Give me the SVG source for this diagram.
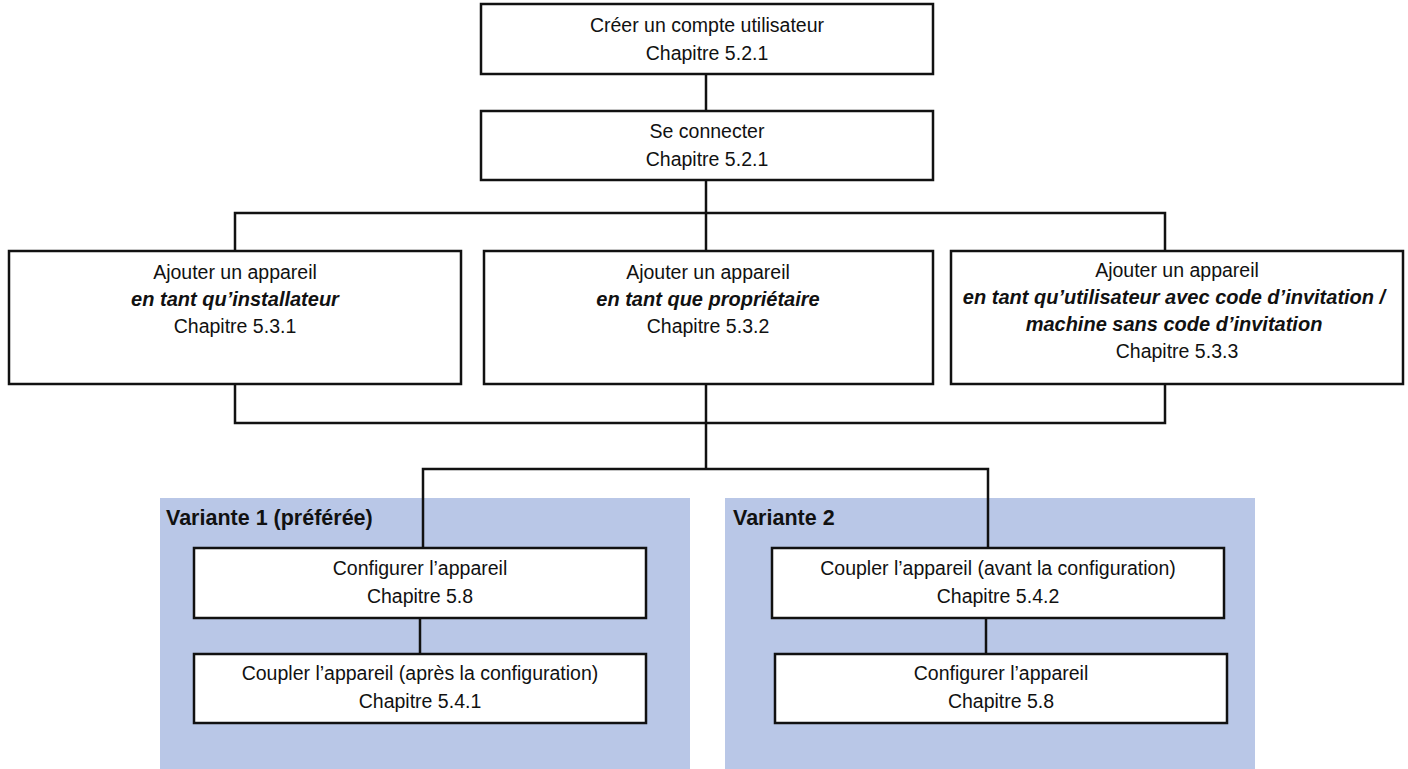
<svg xmlns="http://www.w3.org/2000/svg" width="1408" height="769" viewBox="0 0 1408 769">
<style>
.box{fill:#fff;stroke:#111;stroke-width:2.5}
.panel{fill:#b9c7e7;stroke:none}
.t{font-family:"Liberation Sans",Arial,sans-serif;font-size:19.5px;fill:#111;text-anchor:middle}
.bi{font-weight:bold;font-style:italic;font-size:20px}
.lab{font-family:"Liberation Sans",Arial,sans-serif;font-size:21.5px;font-weight:bold;fill:#111}
.c{fill:none;stroke:#111;stroke-width:2.5}
</style>
<rect width="1408" height="769" fill="#fff"/>
<g id="panel1"><rect class="panel" x="160" y="498" width="530" height="271"/><text class="lab" x="166" y="525">Variante 1 (préférée)</text></g>
<g id="panel2"><rect class="panel" x="725" y="498" width="530" height="271"/><text class="lab" x="733" y="525">Variante 2</text></g>
<g id="connectors">
<path class="c" d="M706 74V111"/>
<path class="c" d="M706 180V251"/>
<path class="c" d="M235 251V213H1165V251"/>
<path class="c" d="M235 384V423H1165V384"/>
<path class="c" d="M706 384V469"/>
<path class="c" d="M423 548V469H988V548"/>
<path class="c" d="M420 618V654"/>
<path class="c" d="M986 618V654"/>
</g>
<g id="n1"><rect class="box" x="481" y="4" width="452" height="70"/><text class="t" x="707" y="32">Créer un compte utilisateur</text><text class="t" x="707" y="60">Chapitre 5.2.1</text></g>
<g id="n2"><rect class="box" x="481" y="111" width="452" height="69"/><text class="t" x="707" y="138">Se connecter</text><text class="t" x="707" y="166">Chapitre 5.2.1</text></g>
<g id="n3"><rect class="box" x="9" y="251" width="452" height="133"/><text class="t" x="235" y="279">Ajouter un appareil</text><text class="t bi" x="235" y="306">en tant qu’installateur</text><text class="t" x="235" y="333">Chapitre 5.3.1</text></g>
<g id="n4"><rect class="box" x="484" y="251" width="449" height="133"/><text class="t" x="708" y="279">Ajouter un appareil</text><text class="t bi" x="708" y="306">en tant que propriétaire</text><text class="t" x="708" y="333">Chapitre 5.3.2</text></g>
<g id="n5"><rect class="box" x="951" y="251" width="452" height="133"/><text class="t" x="1177" y="277">Ajouter un appareil</text><text class="t bi" x="1174" y="304">en tant qu’utilisateur avec code d’invitation /</text><text class="t bi" x="1174" y="331">machine sans code d’invitation</text><text class="t" x="1177" y="358">Chapitre 5.3.3</text></g>
<g id="n6"><rect class="box" x="194" y="548" width="452" height="70"/><text class="t" x="420" y="575">Configurer l’appareil</text><text class="t" x="420" y="603">Chapitre 5.8</text></g>
<g id="n7"><rect class="box" x="194" y="654" width="452" height="69"/><text class="t" x="420" y="680">Coupler l’appareil (après la configuration)</text><text class="t" x="420" y="708">Chapitre 5.4.1</text></g>
<g id="n8"><rect class="box" x="772" y="548" width="452" height="70"/><text class="t" x="998" y="575">Coupler l’appareil (avant la configuration)</text><text class="t" x="998" y="603">Chapitre 5.4.2</text></g>
<g id="n9"><rect class="box" x="775" y="654" width="452" height="69"/><text class="t" x="1001" y="680">Configurer l’appareil</text><text class="t" x="1001" y="708">Chapitre 5.8</text></g>
</svg>
